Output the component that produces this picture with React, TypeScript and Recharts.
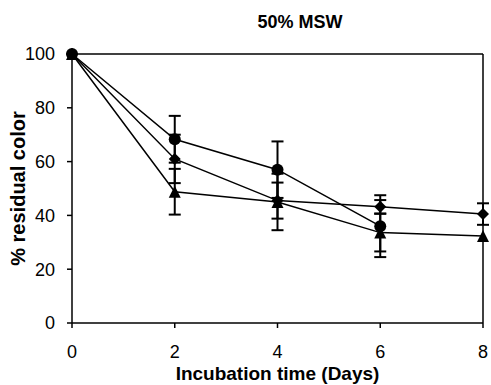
import React from 'react';
import { LineChart, Line, XAxis, YAxis, ErrorBar, ReferenceLine } from 'recharts';

const days = [0, 2, 4, 6, 8];
const circleVals = [100, 68.3, 57, 36, null];
const circleErr = [null, 8.7, 10.5, 11.5, null];
const diamondVals = [100, 61, 45.5, 43.2, 40.5];
const diamondErr = [null, 9, 6.7, 2.5, 4];
const triangleVals = [100, 48.8, 45, 33.6, 32.3];
const triangleErr = [null, 8.5, 10.5, 7, null];
const yTicks = [0, 20, 40, 60, 80, 100];
const xTicks = [0, 2, 4, 6, 8];

const data = days.map((d, i) => ({
  day: d,
  circle: circleVals[i],
  cErr: circleErr[i],
  diamond: diamondVals[i],
  dErr: diamondErr[i],
  triangle: triangleVals[i],
  tErr: triangleErr[i],
}));

const FONT = '"Liberation Sans", Arial, Helvetica, sans-serif';

const CircleDot = (p: any) => {
  if (p.cx == null || p.cy == null || p.value == null) return <g key={p.key} />;
  return <circle key={p.key} cx={p.cx} cy={p.cy} r={6} fill="#000" />;
};
const DiamondDot = (p: any) => {
  if (p.cx == null || p.cy == null || p.value == null) return <g key={p.key} />;
  const s = 6;
  return (
    <polygon
      key={p.key}
      points={`${p.cx},${p.cy - s} ${p.cx + s},${p.cy} ${p.cx},${p.cy + s} ${p.cx - s},${p.cy}`}
      fill="#000"
    />
  );
};
const TriangleDot = (p: any) => {
  if (p.cx == null || p.cy == null || p.value == null) return <g key={p.key} />;
  const h = 6;
  return (
    <polygon
      key={p.key}
      points={`${p.cx},${p.cy - h} ${p.cx + 6},${p.cy + h} ${p.cx - 6},${p.cy + h}`}
      fill="#000"
    />
  );
};

export default function App() {
  return (
    <div style={{ position: 'absolute', left: 0, top: 0, width: 491, height: 385, background: '#fff' }}>
      <div
        style={{
          position: 'absolute',
          left: 200,
          width: 200,
          top: 11,
          textAlign: 'center',
          fontFamily: FONT,
          fontWeight: 'bold',
          fontSize: 18,
          lineHeight: '22px',
          color: '#000',
        }}
      >
        50% MSW
      </div>
      <LineChart width={491} height={385} data={data} margin={{ top: 54, right: 8, bottom: 0, left: 0 }}>
        <XAxis
          dataKey="day"
          type="number"
          domain={[0, 8]}
          ticks={xTicks}
          tickSize={5}
          tickMargin={17}
          height={62}
          stroke="#000"
          strokeWidth={1.5}
          tick={{ fill: '#000', fontSize: 18, fontFamily: FONT }}
          label={{
            value: 'Incubation time (Days)',
            position: 'insideBottom',
            offset: 5,
            fill: '#000',
            fontSize: 19,
            fontWeight: 'bold',
            fontFamily: FONT,
          }}
        />
        <YAxis
          type="number"
          domain={[0, 100]}
          ticks={yTicks}
          width={72}
          tickSize={5}
          tickMargin={12}
          stroke="#000"
          strokeWidth={1.5}
          tick={{ fill: '#000', fontSize: 18, fontFamily: FONT }}
          label={{
            value: '% residual color',
            angle: -90,
            position: 'insideLeft',
            offset: 18,
            fill: '#000',
            fontSize: 20,
            fontWeight: 'bold',
            fontFamily: FONT,
            style: { textAnchor: 'middle' },
          }}
        />
        <ReferenceLine y={100} stroke="#000" strokeWidth={1.5} />
        <ReferenceLine x={8} stroke="#000" strokeWidth={1.5} />
        <Line
          dataKey="circle"
          stroke="#000"
          strokeWidth={1.5}
          dot={CircleDot}
          activeDot={false}
          isAnimationActive={false}
        >
          <ErrorBar dataKey="cErr" direction="y" width={6} stroke="#000" strokeWidth={2} />
        </Line>
        <Line
          dataKey="diamond"
          stroke="#000"
          strokeWidth={1.5}
          dot={DiamondDot}
          activeDot={false}
          isAnimationActive={false}
        >
          <ErrorBar dataKey="dErr" direction="y" width={6} stroke="#000" strokeWidth={2} />
        </Line>
        <Line
          dataKey="triangle"
          stroke="#000"
          strokeWidth={1.5}
          dot={TriangleDot}
          activeDot={false}
          isAnimationActive={false}
        >
          <ErrorBar dataKey="tErr" direction="y" width={6} stroke="#000" strokeWidth={2} />
        </Line>
      </LineChart>
    </div>
  );
}
